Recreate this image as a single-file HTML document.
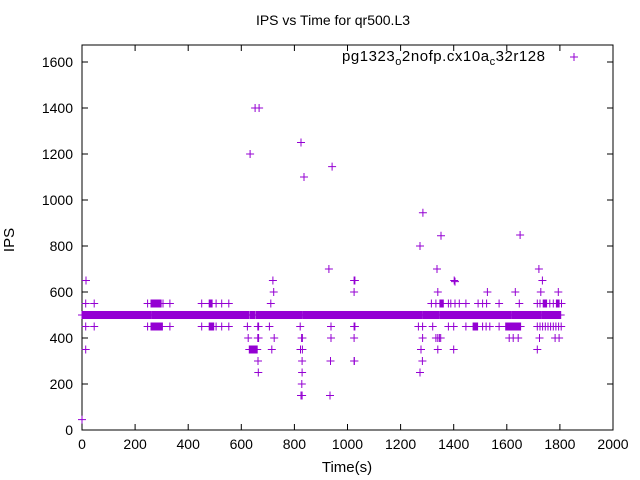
<!DOCTYPE html>
<html><head><meta charset="utf-8"><style>
body{margin:0;background:#fff}
svg{display:block;font-family:"Liberation Sans",sans-serif}
</style></head><body>
<svg id="c" width="640" height="480">
<rect width="640" height="480" fill="#fff"/>
<text x="333" y="25" font-size="14" text-anchor="middle">IPS vs Time for qr500.L3</text>
<text x="14" y="240" font-size="15" text-anchor="middle" transform="rotate(-90 14 240)">IPS</text>
<text x="347" y="472" font-size="15" text-anchor="middle">Time(s)</text>
<g id="axes"></g>
<g>
<text x="545" y="61" font-size="15" text-anchor="end" textLength="203">pg1323<tspan dy="4" font-size="11">o</tspan><tspan dy="-4">2nofp.cx10a</tspan><tspan dy="4" font-size="11">c</tspan><tspan dy="-4">32r128</tspan></text>
<path d="M570 57h8M574 53v8" stroke="#9400d3" stroke-width="1"/>
</g>
<path id="pts" fill="none" stroke="#9400d3" stroke-width="1"/>
</svg>
<script>
// continuous runs of per-second samples: [start, end, value]
const runStarts = [0,262,632,655,833,1285,1348,1620,1731, 260,479, 260,479,1348,1473,1596,1737,1787, 630];
const runEnds   = [258,627,650,829,1281,1344,1616,1727,1803, 298,490, 303,496,1361,1490,1652,1750,1797, 660];
const runValues = [500,500,500,500,500,500,500,500,500, 550,550, 450,450,550,450,450,550,550, 350];
// isolated samples
const ptTimes  = [0,14,15,46,14,14,247,305,331,451,505,526,553,711,247,331,451,505,526,553,623,662,665,706,822,938,1025,626,662,665,724,827,830,938,1025,715,823,830,663,829,936,1025,664,829,828,825,829,934,722,1025,719,1025,
 1028,1402,1734,1340,1527,1632,1728,1794,1316,1333,1380,1389,1405,1421,1446,1492,1509,1524,1571,1647,1715,1725,1762,1775,1806,
 1028,1267,1283,1321,1380,1400,1446,1509,1522,1536,1571,1715,1725,1735,1745,1755,1765,1775,1785,1795,1805,
 1283,1333,1340,1346,1351,1609,1624,1643,1723,1782,1797,1277,1340,1400,1715,1026,1282,1273,
 652,667,633,825,836,942,930,1273,1284,1352,1337,1405,1650,1721,46];
const ptValues = [45,450,650,450,350,550,550,550,550,550,550,550,550,550,450,450,450,450,450,450,450,450,450,450,450,450,450,400,400,400,400,400,400,400,400,350,350,350,300,300,300,300,250,250,200,150,150,150,600,600,650,650,
 650,650,650,600,600,600,600,600,550,550,550,550,550,550,550,550,550,550,550,550,550,550,550,550,550,
 450,450,450,450,450,450,450,450,450,450,450,450,450,450,450,450,450,450,450,450,450,
 400,400,400,400,400,400,400,400,400,400,400,350,350,350,350,300,300,250,
 1400,1400,1200,1250,1100,1145,700,800,945,845,700,645,848,700,550];
const xTicks = [0,200,400,600,800,1000,1200,1400,1600,1800,2000];
const yTicks = [0,200,400,600,800,1000,1200,1400,1600];

const X0=82,X1=613,Y0=430,Y1=45;
const xs = t => X0 + t*(X1-X0)/2000;
const ys = v => Y0 - v*368/1600;

let d='';
function mark(t,v){const x=xs(t),y=ys(v);d+=`M${(x-4).toFixed(1)} ${y.toFixed(1)}h8M${x.toFixed(1)} ${(y-4).toFixed(1)}v8`;}
for(let i=0;i<runStarts.length;i++){for(let t=runStarts[i];t<=runEnds[i];t++)mark(t,runValues[i]);}
for(let i=0;i<ptTimes.length;i++)mark(ptTimes[i],ptValues[i]);
document.getElementById('pts').setAttribute('d',d);

const ns='http://www.w3.org/2000/svg';
const ax=document.getElementById('axes');
let a=`M${X0} ${Y1}H${X1}V${Y0}H${X0}Z`;
xTicks.forEach(t=>{const x=xs(t);a+=`M${x} ${Y0}v-6M${x} ${Y1}v6`;
 const tx=document.createElementNS(ns,'text');
 
 
 tx.setAttribute('x',x);tx.setAttribute('y',449);tx.setAttribute('font-size','14');tx.setAttribute('text-anchor','middle');tx.textContent=t;ax.appendChild(tx);});
yTicks.forEach(v=>{const y=ys(v);a+=`M${X0} ${y}h6M${X1} ${y}h-6`;
 const tx=document.createElementNS(ns,'text');
 
 
 tx.setAttribute('x',73);tx.setAttribute('y',y+5);tx.setAttribute('font-size','14');tx.setAttribute('text-anchor','end');tx.textContent=v;ax.appendChild(tx);});
const p=document.createElementNS(ns,'path');


p.setAttribute('d',a);p.setAttribute('stroke','#000');p.setAttribute('fill','none');p.setAttribute('stroke-width','1');
ax.appendChild(p);
</script>
</body></html>
